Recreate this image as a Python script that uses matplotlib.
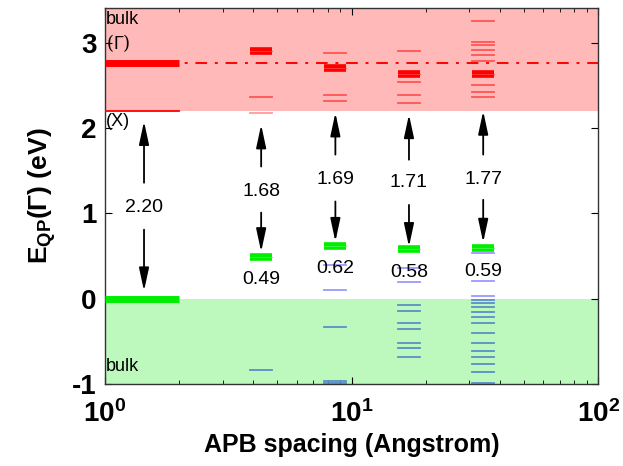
import numpy as np
import matplotlib
matplotlib.use("Agg")
import matplotlib.pyplot as plt

plt.rcParams['font.family'] = ['Liberation Sans', 'DejaVu Sans']
plt.rcParams['mathtext.fontset'] = 'custom'
plt.rcParams['mathtext.rm'] = 'Liberation Sans'
plt.rcParams['mathtext.bf'] = 'Liberation Sans:bold'
plt.rcParams['mathtext.it'] = 'Liberation Sans:italic'
plt.rcParams['axes.unicode_minus'] = False

# bulk reference levels (eV)
bulk_gamma = 2.76
bulk_x = 2.20
bulk_vbm = 0.0

# APB spacings (Angstrom)
spacing = [4.3, 8.6, 17.1, 34.2]

# main conduction (thick red) and defect (thick green) states
cb_main = [2.90, 2.71, 2.64, 2.64]
gap_state = [0.49, 0.62, 0.58, 0.59]
gap_labels = ['0.49', '0.62', '0.58', '0.59']
gaps = ['1.68', '1.69', '1.71', '1.77']

# other conduction levels (thin red)
cb_levels = [
    [2.37, 2.18],
    [2.88, 2.39, 2.32],
    [2.90, 2.54, 2.39, 2.29],
    [3.26, 3.01, 2.98, 2.92, 2.86, 2.79, 2.51, 2.42, 2.37],
]

# valence levels (thin blue)
vb_levels = [
    [-0.84],
    [0.39, 0.10, -0.33, -0.97, -0.99],
    [0.36, 0.20, -0.07, -0.14, -0.28, -0.35, -0.52, -0.58, -0.68],
    [0.54, 0.21, 0.03, -0.02, -0.05, -0.10, -0.16, -0.21, -0.28, -0.40,
     -0.52, -0.61, -0.68, -0.77, -0.86, -0.99],
]

fig = plt.figure(figsize=(6.23, 4.66), dpi=100)
ax = fig.add_axes([0.1685, 0.176, 0.7915, 0.807])
ax.set_xscale('log')
ax.set_xlim(1, 100)
ax.set_ylim(-1, 3.41)

# bulk regions
ax.axhspan(bulk_x, 3.41, color='#ffb9b9', lw=0, zorder=0)
ax.axhspan(-1, bulk_vbm, color='#bdf8bd', lw=0, zorder=0)
ax.axhline(bulk_gamma, color='red', ls=(0, (6, 4, 1.5, 4)), lw=1.4, zorder=1)

# bulk levels at the left
ax.plot([1, 2], [bulk_gamma, bulk_gamma], color='red', lw=5, solid_capstyle='butt', zorder=3)
ax.plot([1, 2], [bulk_x, bulk_x], color='red', lw=1.3, zorder=3)
ax.plot([1, 2], [bulk_vbm, bulk_vbm], color='#00ee00', lw=5, solid_capstyle='butt', zorder=3)

f = 1.108
for i, xc in enumerate(spacing):
    xs = [xc / f, xc * f]
    for e in cb_levels[i]:
        c = '#ff5555' if e > bulk_x else '#ff9a9a'
        ax.plot(xs, [e, e], color=c, lw=1.3, zorder=2)
    for e in vb_levels[i]:
        c = '#5a8fc8' if e < 0 else '#9a9aff'
        ax.plot(xs, [e, e], color=c, lw=1.3, zorder=2)
    ax.plot(xs, [cb_main[i]] * 2, color='red', lw=5.5, solid_capstyle='butt', zorder=3)
    ax.plot(xs, [cb_main[i]] * 2, color='#ff3c3c', lw=0.6, zorder=4)
    ax.plot(xs, [gap_state[i]] * 2, color='#00ee00', lw=5.5, solid_capstyle='butt', zorder=3)
    ax.plot(xs, [gap_state[i]] * 2, color='#44f444', lw=0.6, zorder=4)

arrow = dict(arrowstyle='-|>,head_length=1.4,head_width=0.3', color='black', lw=1.3,
             shrinkA=0, shrinkB=0)

# bulk gap arrow
xa = 1.44
ax.text(xa, 1.07, '2.20', ha='center', va='center', fontsize=14)
ax.annotate('', xy=(xa, 2.08), xytext=(xa, 1.36), arrowprops=arrow)
ax.annotate('', xy=(xa, 0.09), xytext=(xa, 0.81), arrowprops=arrow)

# gap arrows per spacing
up_tip = [2.04, 2.18, 2.16, 2.20]
up_base = [1.55, 1.69, 1.63, 1.69]
txt_y = [1.26, 1.40, 1.36, 1.40]
dn_base = [1.01, 1.14, 1.10, 1.16]
dn_tip = [0.55, 0.67, 0.61, 0.66]
for i, xc in enumerate(spacing):
    ax.annotate('', xy=(xc, up_tip[i]), xytext=(xc, up_base[i]), arrowprops=arrow)
    ax.annotate('', xy=(xc, dn_tip[i]), xytext=(xc, dn_base[i]), arrowprops=arrow)
    ax.text(xc, txt_y[i], gaps[i], ha='center', va='center', fontsize=14)
    ax.text(xc, gap_state[i] - 0.27, gap_labels[i], ha='center', va='center', fontsize=14)

# bulk labels
ax.text(1.01, 3.28, 'bulk', ha='left', va='center', fontsize=13)
ax.text(1.01, 3.0, r'($\Gamma$)', ha='left', va='center', fontsize=13,
        family=['DejaVu Serif'])
ax.text(1.01, 2.08, '(X)', ha='left', va='center', fontsize=13)
ax.text(1.01, -0.80, 'bulk', ha='left', va='center', fontsize=13)

ax.set_yticks([-1, 0, 1, 2, 3])
ax.set_xticks([1, 10, 100])
for lab in ax.get_yticklabels() + ax.get_xticklabels():
    lab.set_fontweight('bold')
    lab.set_fontsize(20)
ax.tick_params(which='both', direction='in', top=True, right=True)
ax.tick_params(which='major', length=5)
ax.tick_params(which='minor', length=3)
ax.tick_params(axis='x', pad=12)
ax.tick_params(axis='y', pad=6)

ax.set_xlabel('APB spacing (Angstrom)', fontsize=18, fontweight='bold', labelpad=3)
ax.set_ylabel(r'$\mathbf{E_{QP}(\Gamma)}$ (eV)', fontsize=19, fontweight='bold', labelpad=10)

for s in ax.spines.values():
    s.set_color('#333333')
    s.set_linewidth(1.0)

fig.savefig('out.png', dpi=100)
